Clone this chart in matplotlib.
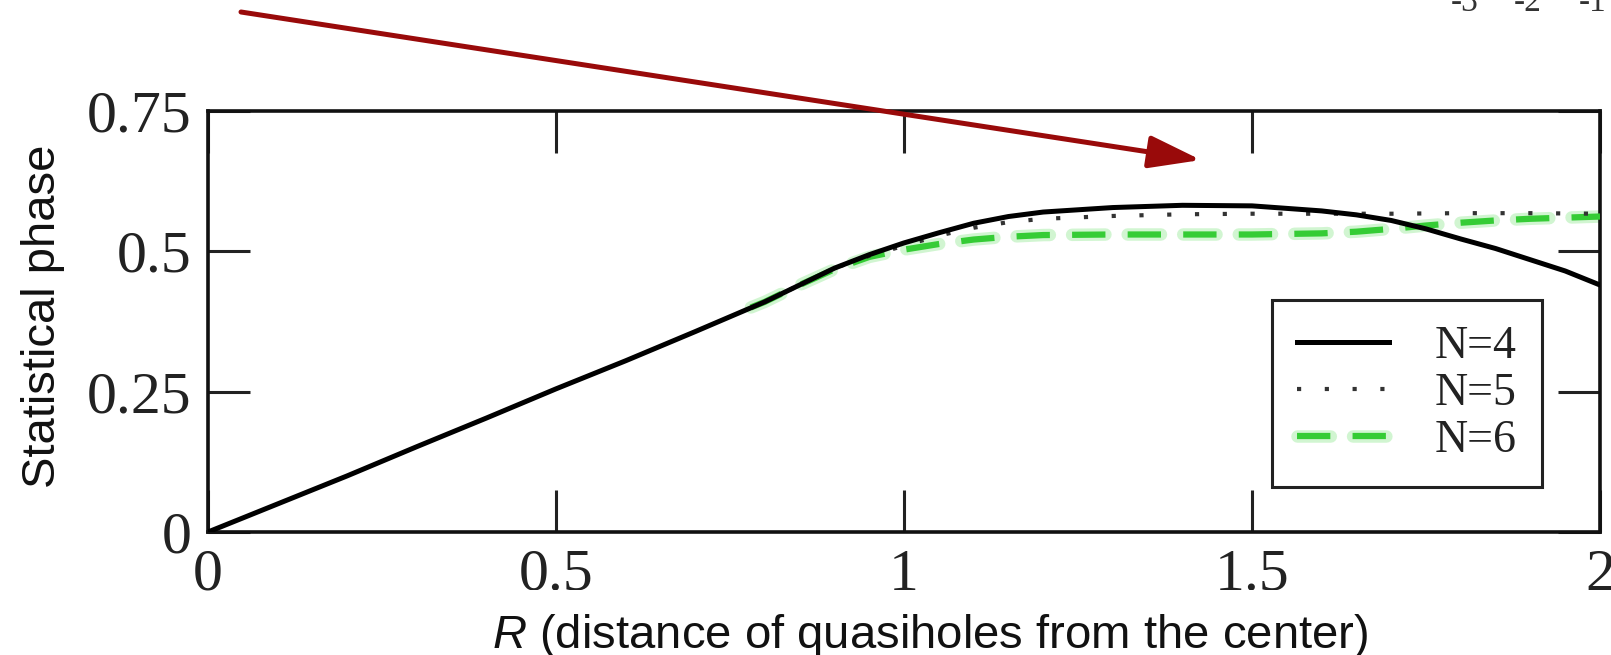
import numpy as np
import matplotlib.pyplot as plt

plt.rcParams['lines.scale_dashes'] = False
plt.rcParams['mathtext.fontset'] = 'custom'
plt.rcParams['mathtext.it'] = 'Liberation Sans:italic'
plt.rcParams['mathtext.rm'] = 'Liberation Sans'

# statistical phase vs. quasihole distance R for N = 4, 5, 6
r_n4 = [0.0, 0.1, 0.2, 0.3, 0.4, 0.5, 0.6, 0.7, 0.8, 0.85, 0.9, 0.95, 1.0,
        1.05, 1.1, 1.15, 1.2, 1.3, 1.4, 1.5, 1.6, 1.65, 1.7, 1.75, 1.8,
        1.85, 1.9, 1.95, 2.0]
phase_n4 = [0.0, 0.05, 0.10, 0.152, 0.203, 0.255, 0.305, 0.357, 0.41, 0.44,
            0.470, 0.494, 0.515, 0.533, 0.550, 0.562, 0.570, 0.578, 0.582,
            0.581, 0.572, 0.565, 0.555, 0.540, 0.522, 0.505, 0.485, 0.465,
            0.440]

r_n5 = [0.8, 0.85, 0.9, 0.95, 1.0, 1.05, 1.1, 1.15, 1.2, 1.3, 1.4, 1.5,
        1.6, 1.7, 1.8, 1.9, 2.0]
phase_n5 = [0.41, 0.44, 0.47, 0.492, 0.51, 0.528, 0.542, 0.552, 0.558,
            0.563, 0.566, 0.567, 0.567, 0.567, 0.568, 0.568, 0.567]

r_n6 = [0.78, 0.8, 0.85, 0.9, 0.95, 1.0, 1.05, 1.1, 1.15, 1.2, 1.3, 1.4,
        1.5, 1.6, 1.65, 1.7, 1.75, 1.8, 1.85, 1.9, 1.95, 2.0]
phase_n6 = [0.400, 0.41, 0.44, 0.468, 0.49, 0.503, 0.513, 0.521, 0.526,
            0.529, 0.530, 0.530, 0.530, 0.532, 0.535, 0.540, 0.546, 0.551,
            0.555, 0.558, 0.560, 0.562]

xticks = [0, 0.5, 1, 1.5, 2]
xtick_labels = ['0', '0.5', '1', '1.5', '2']
yticks = [0, 0.25, 0.5, 0.75]
ytick_labels = ['0', '0.25', '0.5', '0.75']
series_labels = ['N=4', 'N=5', 'N=6']

W, H = 1611, 655
fig = plt.figure(figsize=(W / 100, H / 100), dpi=100)
ax = fig.add_axes([208 / W, 1 - 532 / H, (1600 - 208) / W, (532 - 111) / H])

# N=6: bright green dashes with a soft halo
dash = (0, (24, 16))
glow, = ax.plot(r_n6, phase_n6, color='#9aeb9a', lw=9, alpha=0.45,
                linestyle=dash, dash_capstyle='round', zorder=2)
core, = ax.plot(r_n6, phase_n6, color='#35cc35', lw=4.5, linestyle=dash,
                dash_capstyle='butt', zorder=3)
dots, = ax.plot(r_n5, phase_n5, color='#333333', lw=3,
                linestyle=(0, (3, 17)), dash_capstyle='butt', zorder=4)
solid, = ax.plot(r_n4, phase_n4, color='black', lw=3.6, zorder=5)

ax.set_xlim(0, 2)
ax.set_ylim(0, 0.75)
ax.set_xticks(xticks)
ax.set_xticklabels(xtick_labels)
ax.set_yticks(yticks)
ax.set_yticklabels(ytick_labels)
for lbl in ax.get_xticklabels() + ax.get_yticklabels():
    lbl.set_family('Liberation Serif')
ax.tick_params(direction='in', length=30, width=2.2, top=True, right=True,
               labelsize=43, pad=12, colors='#222222')
for sp in ax.spines.values():
    sp.set_linewidth(2.6)
    sp.set_color('#111111')

leg = ax.legend([solid, dots, (glow, core)], series_labels,
                loc='upper left', bbox_to_anchor=(1272 / W, 1 - 300 / H),
                bbox_transform=fig.transFigure, borderaxespad=0,
                prop={'family': 'Liberation Serif', 'size': 33},
                handlelength=2.0, handletextpad=1.0, borderpad=0.55,
                labelspacing=0.1, fancybox=False, framealpha=1)
leg.get_frame().set_edgecolor('#222222')
leg.get_frame().set_linewidth(2.2)
for t in leg.get_texts():
    t.set_color('#222222')

fig.text(43 / W, 1 - 316 / H, 'Statistical phase', rotation=90,
         ha='center', va='center', fontsize=34, family='Liberation Sans',
         color='#111111')
# the label's white box overlaps the lower part of the middle tick labels
fig.text(930 / W, 1 - 636 / H,
         r'$\it{R}$ (distance of quasiholes from the center)',
         ha='center', va='center', fontsize=34, family='Liberation Sans',
         color='#111111',
         bbox=dict(boxstyle='square,pad=0.47', fc='white', ec='none'))

# stray tick labels from a neighbouring panel
for xp, s in zip([1465, 1528, 1593], ['-3', '-2', '-1']):
    fig.text(xp / W, 1 - 11 / H, s, ha='center', va='baseline',
             fontsize=24, family='Liberation Serif', color='#333333')

ax.annotate('', xy=(1201, H - 160), xytext=(241, H - 12),
            xycoords='figure pixels', textcoords='figure pixels',
            annotation_clip=False,
            arrowprops=dict(arrowstyle='-|>,head_length=1.6,head_width=0.5',
                            color='#990a0a', lw=3.6, mutation_scale=20,
                            shrinkA=0, shrinkB=0))

fig.savefig('out.png', dpi=100)
